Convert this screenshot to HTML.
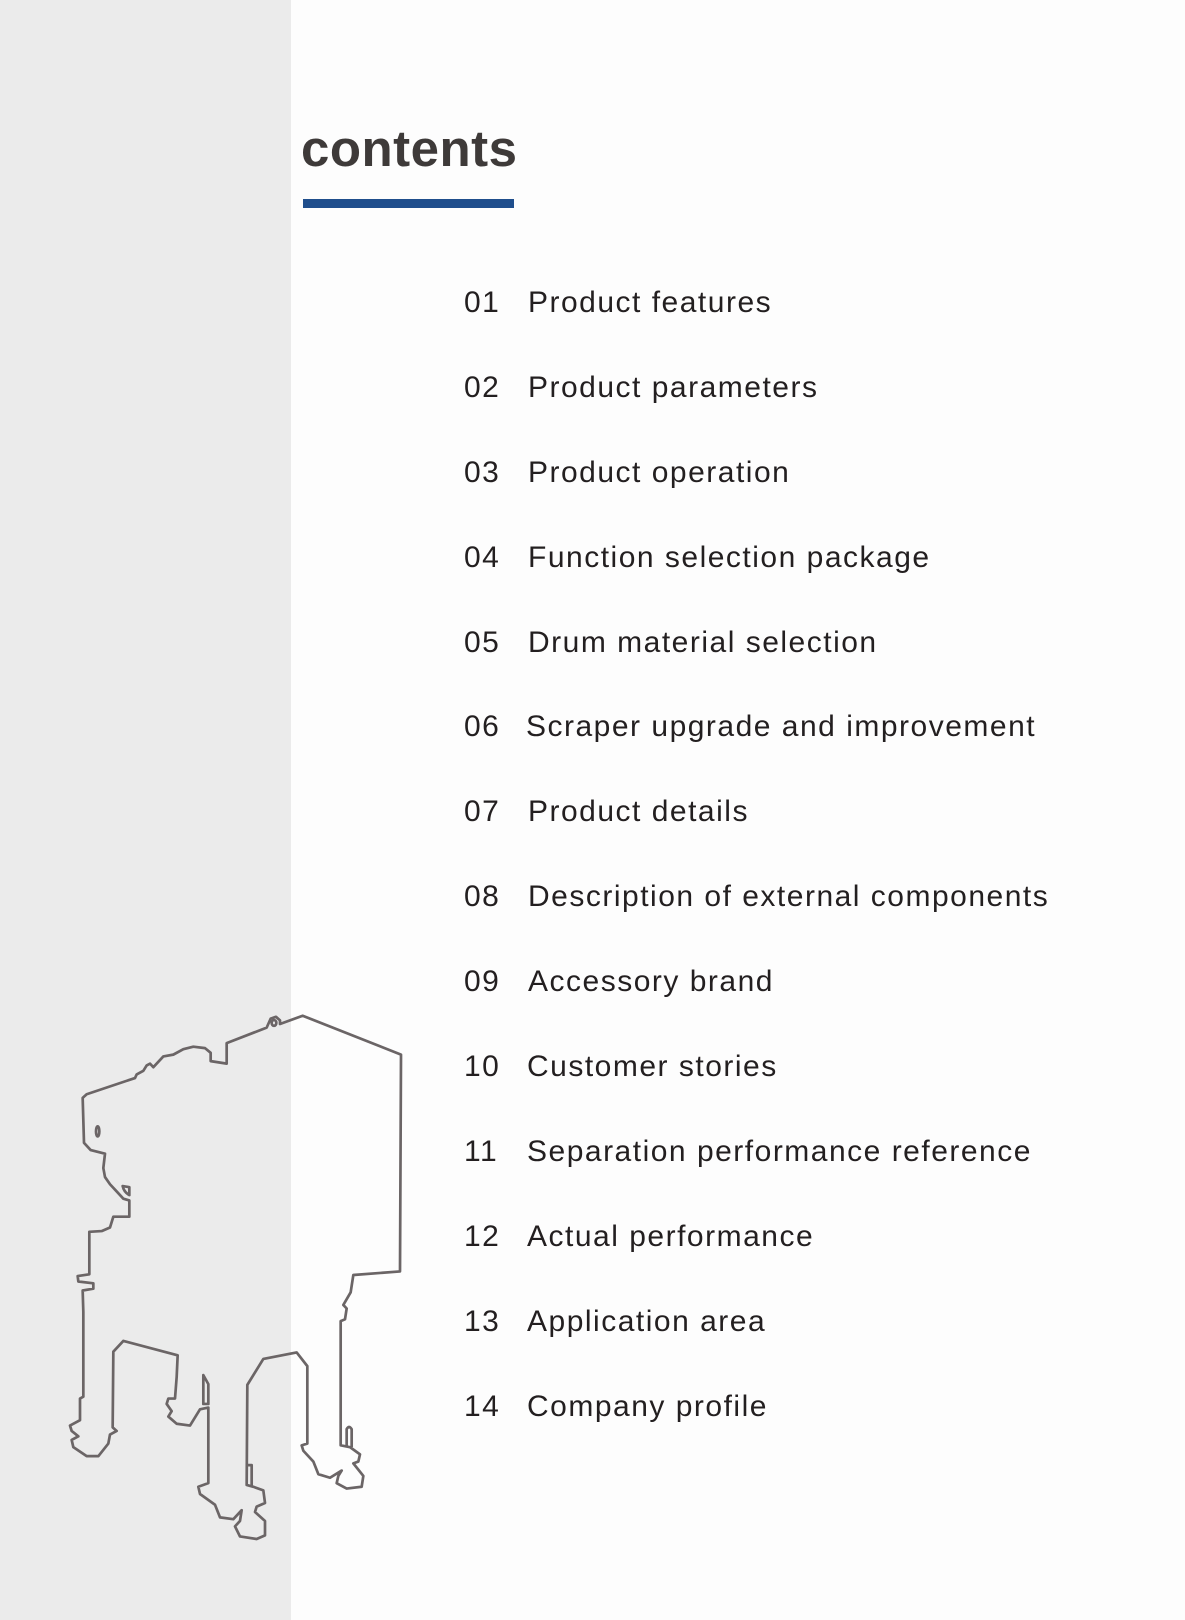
<!DOCTYPE html>
<html><head><meta charset="utf-8"><style>
html,body{margin:0;padding:0}
body{width:1185px;height:1620px;position:relative;background:#fdfdfd;overflow:hidden;font-family:"Liberation Sans",sans-serif}
#gray{position:absolute;left:0;top:0;width:291px;height:1620px;background:#ebebeb}
#title{position:absolute;left:301px;top:113px;font-size:51px;font-weight:bold;color:#3e3a39;line-height:72px;letter-spacing:0.5px}
#bar{position:absolute;left:303px;top:199px;width:211px;height:9px;background:#1f4e8c}
.it{position:absolute;left:464px;font-size:30px;color:#231f20;line-height:36px;white-space:nowrap;letter-spacing:1.5px}
.it span{position:absolute;left:64px}
svg{position:absolute;left:0;top:979px}
</style></head><body>
<div id="gray"></div>
<div id="title">contents</div>
<div id="bar"></div>
<div class="it" style="top:285px">01<span>Product features</span></div>
<div class="it" style="top:370px">02<span>Product parameters</span></div>
<div class="it" style="top:455px">03<span>Product operation</span></div>
<div class="it" style="top:540px">04<span>Function selection package</span></div>
<div class="it" style="top:625px">05<span>Drum material selection</span></div>
<div class="it" style="top:709px">06<span style="left:62px">Scraper upgrade and improvement</span></div>
<div class="it" style="top:794px">07<span>Product details</span></div>
<div class="it" style="top:879px">08<span>Description of external components</span></div>
<div class="it" style="top:964px">09<span>Accessory brand</span></div>
<div class="it" style="top:1049px">10<span style="left:63px">Customer stories</span></div>
<div class="it" style="top:1134px">11<span style="left:63px">Separation performance reference</span></div>
<div class="it" style="top:1219px">12<span style="left:63px">Actual performance</span></div>
<div class="it" style="top:1304px">13<span style="left:63px">Application area</span></div>
<div class="it" style="top:1389px">14<span style="left:63px">Company profile</span></div>
<svg width="420" height="605" viewBox="0 0 1260 1680" preserveAspectRatio="none">
<g fill="none" stroke="#6b6566" stroke-linejoin="round">
<path vector-effect="non-scaling-stroke" stroke-width="2.7" d="M908,102 L1203,210 L1200,812 L1060,822 L1052,870 L1030,905 L1040,915 L1035,945 L1022,950 L1022,1295 L1050,1300 L1080,1320 L1075,1340 L1060,1345 L1090,1380 L1085,1410 L1040,1415 L1010,1400 L1015,1380 L1025,1365 L990,1385 L955,1375 L940,1340 L910,1310 L905,1295 L922,1290 L922,1075 L890,1037 L790,1055 L742,1127 L740,1405 L760,1410 L790,1420 L795,1455 L770,1465 L765,1480 L795,1505 L795,1545 L770,1555 L720,1548 L705,1520 L720,1505 L725,1475 L700,1500 L660,1495 L645,1460 L600,1430 L595,1410 L625,1400 L625,1190 L600,1195 L570,1240 L530,1235 L505,1215 L515,1200 L500,1180 L505,1165 L525,1165 L530,1105 L533,1045 L370,1005 L340,1035 L338,1245 L350,1255 L330,1265 L325,1290 L295,1325 L260,1325 L220,1300 L215,1280 L235,1270 L215,1255 L210,1240 L240,1225 L240,1165 L250,1160 L250,925 L248,865 L280,860 L280,845 L235,840 L233,825 L268,820 L268,702 L305,700 L330,690 L340,660 L388,660 L388,615 L370,610 L350,590 L330,570 L315,550 L310,525 L315,485 L272,475 L252,455 L248,330 L260,320 L405,275 L410,265 L430,255 L440,240 L450,235 L460,245 L490,215 L520,210 L550,195 L580,188 L615,192 L632,205 L632,228 L680,235 L680,178 L800,135 L812,110 L828,105 L840,115 L840,125 Z"/>
<path vector-effect="non-scaling-stroke" stroke-width="2.7" d="M610,1100 L625,1125 L625,1180 L610,1180 Z"/>
<path vector-effect="non-scaling-stroke" stroke-width="2.7" d="M1040,1300 L1040,1250 Q1047,1238 1055,1250 L1055,1300"/>
<path vector-effect="non-scaling-stroke" stroke-width="2.7" d="M742,1350 L755,1350 L755,1410"/>
<ellipse vector-effect="non-scaling-stroke" stroke-width="2.7" cx="293" cy="423" rx="5" ry="14"/>
<ellipse vector-effect="non-scaling-stroke" stroke-width="2.7" cx="822" cy="122" rx="7" ry="8"/>
<path vector-effect="non-scaling-stroke" stroke-width="2.7" d="M368,575 L388,578 L388,600 Q372,592 368,575 Z"/>
</g>
</svg>
</body></html>
